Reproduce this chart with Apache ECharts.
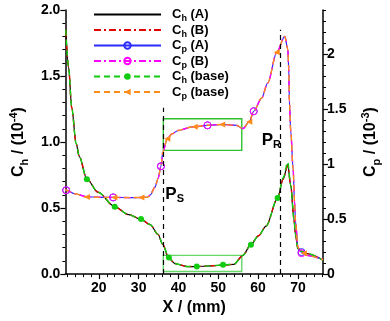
<!DOCTYPE html>
<html>
<head>
<meta charset="utf-8">
<script src="https://cdn.jsdelivr.net/npm/echarts@6/dist/echarts.min.js"></script>
<style>
  html, body { margin: 0; padding: 0; background: #fff; }
  #chart { width: 390px; height: 321px; }
</style>
</head>
<body>
<div id="chart"></div>
<script>
// Ch curves (left axis, 10^-4)
const chX = [11.7, 12.4, 13.2, 14.3, 15.1, 17.0, 19.8, 24.0, 27.5, 30.6, 32.9, 34.9, 36.0, 37.6, 39.1, 42.2, 44.6, 48.0, 51.2, 53.9, 56.2, 58.2, 60.1, 62.0, 64.9, 66.3, 67.45, 68.2, 69.0, 69.4, 70.0, 70.9, 72.5, 76.3]
const chA = [1.85, 1.57, 1.26, 0.99, 0.89, 0.72, 0.62, 0.51, 0.45, 0.415, 0.375, 0.30, 0.228, 0.12, 0.08, 0.057, 0.057, 0.062, 0.068, 0.074, 0.142, 0.225, 0.29, 0.363, 0.576, 0.72, 0.83, 0.67, 0.42, 0.30, 0.19, 0.172, 0.154, 0.105]
const chB = [1.85, 1.57, 1.26, 0.99, 0.89, 0.72, 0.62, 0.51, 0.45, 0.415, 0.375, 0.30, 0.228, 0.12, 0.08, 0.057, 0.057, 0.062, 0.068, 0.074, 0.142, 0.225, 0.29, 0.363, 0.576, 0.72, 0.82, 0.67, 0.42, 0.30, 0.19, 0.172, 0.154, 0.105]
const chBase = [1.85, 1.57, 1.26, 0.99, 0.89, 0.718, 0.62, 0.51, 0.45, 0.417, 0.375, 0.30, 0.228, 0.125, 0.08, 0.057, 0.058, 0.062, 0.07, 0.075, 0.142, 0.223, 0.29, 0.363, 0.576, 0.73, 0.85, 0.67, 0.42, 0.30, 0.19, 0.172, 0.154, 0.105]
const chBaseMarks = [17.0, 24.0, 30.6, 37.6, 44.6, 51.2, 58.2, 64.9]

// Cp curves (right axis, 10^-3)
const cpX = [11.6, 11.8, 14.0, 17.0, 20.0, 23.6, 23.9, 28.0, 30.7, 32.2, 32.9, 34.1, 34.9, 35.6, 36.1, 37.2, 38.4, 39.9, 43.4, 44.1, 47.3, 51.0, 54.6, 56.2, 57.8, 58.9, 60.9, 62.4, 64.7, 66.7, 67.45, 67.7, 67.85, 68.2, 68.8, 69.15, 69.4, 70.0, 70.55, 70.9, 71.5, 72.1, 76.3]
const cpA = [0.77, 0.762, 0.73, 0.703, 0.698, 0.697, 0.697, 0.695, 0.696, 0.698, 0.718, 0.79, 0.87, 0.98, 1.11, 1.234, 1.275, 1.305, 1.337, 1.34, 1.352, 1.36, 1.352, 1.322, 1.385, 1.48, 1.60, 1.736, 2.017, 2.16, 2.046, 1.87, 1.574, 1.30, 0.954, 0.658, 0.48, 0.245, 0.21, 0.20, 0.19, 0.17, 0.133]
const cpB = [0.77, 0.762, 0.73, 0.703, 0.698, 0.697, 0.697, 0.695, 0.696, 0.698, 0.718, 0.79, 0.87, 0.98, 1.11, 1.234, 1.275, 1.305, 1.337, 1.34, 1.352, 1.36, 1.352, 1.322, 1.385, 1.48, 1.60, 1.736, 2.017, 2.16, 2.046, 1.87, 1.574, 1.30, 0.954, 0.658, 0.48, 0.245, 0.21, 0.19, 0.19, 0.17, 0.133]
const cpBase = [0.77, 0.762, 0.73, 0.70, 0.698, 0.697, 0.697, 0.695, 0.696, 0.698, 0.718, 0.79, 0.87, 0.98, 1.11, 1.23, 1.275, 1.305, 1.337, 1.34, 1.352, 1.36, 1.352, 1.322, 1.385, 1.48, 1.60, 1.736, 2.017, 2.16, 2.046, 1.87, 1.574, 1.30, 0.954, 0.658, 0.48, 0.245, 0.21, 0.20, 0.19, 0.17, 0.133]
const cpCircleMarks = [11.8, 23.6, 35.6, 47.3, 58.9, 70.9]
const cpBaseMarks = [17.0, 23.9, 30.7, 37.2, 44.1, 51.0, 57.8, 64.7, 71.5]

// axis ticks
const xMajor = [20, 30, 40, 50, 60, 70]
const xMinor = [12, 14, 16, 18, 22, 24, 26, 28, 32, 34, 36, 38, 42, 44, 46, 48, 52, 54, 56, 58, 62, 64, 66, 68, 72, 74, 76]
const cpMajor = [0, 0.5, 1, 1.5, 2]
const cpMinor = [0.1, 0.2, 0.3, 0.4, 0.6, 0.7, 0.8, 0.9, 1.1, 1.2, 1.3, 1.4, 1.6, 1.7, 1.8, 1.9, 2.1, 2.2, 2.3, 2.4]

// dashed positions and zoom boxes
const psX = 36.2
const prX = 65.6
const boxTop = [[36.2, 0.937], [55.9, 1.176]]
const boxBottom = [[36.2, 0.02], [55.9, 0.142]]

const FONT = 'Liberation Sans'

function points(xs, ys, marks) {
  return xs.map((x, i) => {
    const item = { value: [x, ys[i]] }
    if (!marks || marks.indexOf(x) < 0) item.symbol = 'none'
    return item
  })
}

const chart = echarts.init(document.getElementById('chart'), null, { renderer: 'canvas' })

const dashDot = [7, 3, 2, 3]
const subRich = {
  c: { fontFamily: FONT, fontWeight: 'bold', fontSize: 13, lineHeight: 18, color: '#000' },
  s: { fontFamily: FONT, fontWeight: 'bold', fontSize: 9, lineHeight: 9, verticalAlign: 'bottom', color: '#000' }
}
const nameRich = {
  c: { fontFamily: FONT, fontWeight: 'bold', fontSize: 16, lineHeight: 22, color: '#000' },
  s: { fontFamily: FONT, fontWeight: 'bold', fontSize: 11, lineHeight: 11, verticalAlign: 'bottom', color: '#000' },
  p: { fontFamily: FONT, fontWeight: 'bold', fontSize: 11, lineHeight: 11, verticalAlign: 'top', color: '#000' }
}

const option = {
  animation: false,
  textStyle: { fontFamily: FONT },
  grid: { left: 55, right: 57, top: 10, bottom: 40 },
  legend: {
    orient: 'vertical',
    left: 88,
    top: 3,
    itemWidth: 67,
    itemHeight: 8,
    itemGap: 0,
    textStyle: { padding: [0, 0, 0, 6], rich: subRich },
    formatter: (name) => '{c|C}{s|' + name[1] + '}{c|' + name.slice(2) + '}',
    data: [
      { name: 'Ch (A)', itemStyle: { opacity: 0 } },
      { name: 'Ch (B)', itemStyle: { opacity: 0 } },
      'Cp (A)', 'Cp (B)', 'Ch (base)', 'Cp (base)'
    ]
  },
  xAxis: [
    {
      type: 'value', min: 11.6, max: 76.3, position: 'bottom',
      axisLine: { lineStyle: { color: '#000', width: 1.5 } },
      axisTick: { customValues: xMajor, length: 5, lineStyle: { color: '#000', width: 1.2 } },
      axisLabel: { customValues: xMajor, margin: 7, color: '#000', fontWeight: 'bold', fontSize: 14, fontFamily: FONT },
      splitLine: { show: false },
      name: 'X / (mm)', nameLocation: 'middle', nameGap: 23,
      nameTextStyle: { color: '#000', fontWeight: 'bold', fontSize: 16, fontFamily: FONT }
    },
    {
      type: 'value', min: 11.6, max: 76.3, position: 'bottom',
      axisLine: { show: false },
      axisTick: { customValues: xMinor, length: 3, lineStyle: { color: '#000', width: 1 } },
      axisLabel: { show: false },
      splitLine: { show: false }
    }
  ],
  yAxis: [
    {
      type: 'value', min: 0, max: 2, interval: 0.5, position: 'left',
      axisLine: { show: true, lineStyle: { color: '#000', width: 1.5 } },
      axisTick: { show: true, length: 5, lineStyle: { color: '#000', width: 1.2 } },
      minorTick: { show: true, splitNumber: 5, length: 3, lineStyle: { color: '#000', width: 1 } },
      axisLabel: { margin: 5, color: '#000', fontWeight: 'bold', fontSize: 14, fontFamily: FONT, formatter: (v) => v.toFixed(1) },
      splitLine: { show: false },
      name: '{c|C}{s|h}{c| / (10}{p|-4}{c|)}', nameLocation: 'middle', nameRotate: 90, nameGap: 25,
      nameTextStyle: { rich: nameRich }
    },
    {
      type: 'value', min: 0, max: 2.4, position: 'right',
      axisLine: { show: true, lineStyle: { color: '#000', width: 1.5 } },
      axisTick: { show: true, customValues: cpMajor, length: 5, lineStyle: { color: '#000', width: 1.2 } },
      axisLabel: { customValues: cpMajor, margin: 4, color: '#000', fontWeight: 'bold', fontSize: 14, fontFamily: FONT },
      splitLine: { show: false },
      name: '{c|C}{s|p}{c| / (10}{p|-3}{c|)}', nameLocation: 'middle', nameRotate: 90, nameGap: 37,
      nameTextStyle: { rich: nameRich }
    },
    {
      type: 'value', min: 0, max: 2.4, position: 'right',
      axisLine: { show: false },
      axisTick: { show: true, customValues: cpMinor, length: 3, lineStyle: { color: '#000', width: 1 } },
      axisLabel: { show: false },
      splitLine: { show: false }
    }
  ],
  series: [
    {
      name: 'Ch (A)', type: 'line', yAxisIndex: 0, smooth: 0.3, smoothMonotone: 'x',
      symbol: 'none', color: '#000',
      lineStyle: { color: '#000', width: 1.2 },
      data: points(chX, chA, null),
      markLine: {
        silent: true, symbol: ['none', 'none'], label: { show: false },
        lineStyle: { color: '#000', type: [5, 4], width: 1.2 },
        data: [
          [{ coord: [psX, 0] }, { coord: [psX, 1.26] }],
          [{ coord: [prX, 0] }, { coord: [prX, 1.85] }]
        ]
      },
      markArea: {
        silent: true, label: { show: false },
        itemStyle: { color: 'rgba(0,0,0,0)', borderColor: '#2fc22f', borderWidth: 1.4 },
        data: [
          [{ coord: boxTop[0] }, { coord: boxTop[1] }],
          [{ coord: boxBottom[0], itemStyle: { borderColor: '#66d666' } }, { coord: boxBottom[1] }]
        ]
      }
    },
    {
      name: 'Ch (B)', type: 'line', yAxisIndex: 0, smooth: 0.3, smoothMonotone: 'x',
      symbol: 'none', color: '#e00000',
      lineStyle: { color: '#e00000', width: 1.4, type: dashDot },
      data: points(chX, chB, null)
    },
    {
      name: 'Cp (A)', type: 'line', yAxisIndex: 1, smooth: 0.3, smoothMonotone: 'x',
      symbol: 'circle', symbolSize: 7,
      itemStyle: { color: 'rgba(255,255,255,0)', borderColor: '#2b2bff', borderWidth: 1 },
      lineStyle: { color: '#2b2bff', width: 1.2 },
      data: points(cpX, cpA, cpCircleMarks)
    },
    {
      name: 'Cp (B)', type: 'line', yAxisIndex: 1, smooth: 0.3, smoothMonotone: 'x',
      symbol: 'circle', symbolSize: 7,
      itemStyle: { color: 'rgba(255,255,255,0)', borderColor: '#ff00ff', borderWidth: 1 },
      lineStyle: { color: '#ff00ff', width: 1.4, type: dashDot },
      data: points(cpX, cpB, cpCircleMarks)
    },
    {
      name: 'Ch (base)', type: 'line', yAxisIndex: 0, smooth: 0.3, smoothMonotone: 'x',
      symbol: 'circle', symbolSize: 6, color: '#11cc11',
      itemStyle: { color: '#11cc11' },
      lineStyle: { color: '#11cc11', width: 1.4, type: [6, 4] },
      data: points(chX, chBase, chBaseMarks)
    },
    {
      name: 'Cp (base)', type: 'line', yAxisIndex: 1, smooth: 0.3, smoothMonotone: 'x',
      symbol: 'triangle', symbolRotate: 90, symbolSize: 6, color: '#ff8c1a',
      itemStyle: { color: '#ff8c1a' },
      lineStyle: { color: '#ff8c1a', width: 1.4, type: [6, 4] },
      data: points(cpX, cpBase, cpBaseMarks)
    }
  ]
}

chart.setOption(option)

// P_S / P_R labels placed in data coordinates
const labelRich = {
  p: { fontFamily: FONT, fontWeight: 'bold', fontSize: 17, lineHeight: 20, color: '#000' },
  s: { fontFamily: FONT, fontWeight: 'bold', fontSize: 11, lineHeight: 11, verticalAlign: 'bottom', color: '#000' }
}
const ps = chart.convertToPixel({ xAxisIndex: 0, yAxisIndex: 0 }, [36.7, 0.605])
const pr = chart.convertToPixel({ xAxisIndex: 0, yAxisIndex: 0 }, [60.9, 1.01])
chart.setOption({
  graphic: [
    { type: 'text', x: ps[0], y: ps[1], style: { text: '{p|P}{s|S}', rich: labelRich, verticalAlign: 'middle', align: 'left' } },
    { type: 'text', x: pr[0], y: pr[1], style: { text: '{p|P}{s|R}', rich: labelRich, verticalAlign: 'middle', align: 'left' } }
  ]
})
</script>
</body>
</html>
